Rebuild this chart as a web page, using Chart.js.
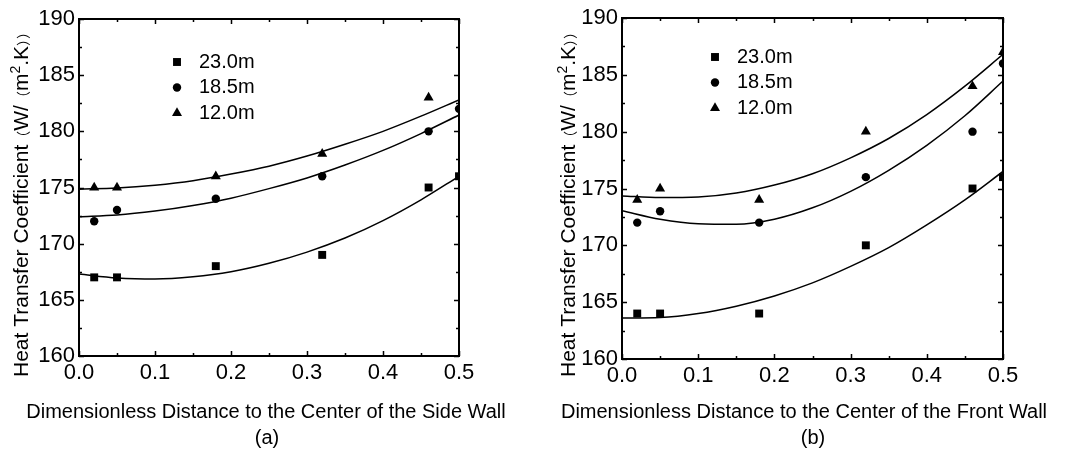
<!DOCTYPE html>
<html>
<head>
<meta charset="utf-8">
<script src="https://cdn.jsdelivr.net/npm/chart.js@4.4.1/dist/chart.umd.min.js"></script>
<style>
  html, body { margin: 0; padding: 0; background: #fff; }
  .panel { position: absolute; top: 0; height: 450px; }
  #panelA { left: 0; width: 540px; }
  #panelB { left: 540px; width: 543px; }
</style>
</head>
<body>
<div class="panel" id="panelA"><canvas id="chartA"></canvas></div>
<div class="panel" id="panelB"><canvas id="chartB"></canvas></div>
<script>
// measured positions along the wall (dimensionless)
const xPoints = [0.02, 0.05, 0.18, 0.32, 0.46, 0.5];
const seriesLabels = ['23.0m', '18.5m', '12.0m'];

// (a) side wall
const side23 = [167, 167, 168, 169, 175, 176];
const side185 = [172, 173, 174, 176, 180, 182];
const side12 = [175, 175, 176, 178, 183, null];

// (b) front wall
const front23 = [164, 164, 164, 170, 175, 176];
const front185 = [172, 173, 172, 176, 180, 186];
const front12 = [174, 175, 174, 180, 184, 187];

// fitted curves at these x positions
const fitX = [0, 0.05, 0.1, 0.15, 0.2, 0.25, 0.3, 0.35, 0.4, 0.45, 0.5];
const sideFit23 = [167.3, 166.95, 166.85, 167.05, 167.5, 168.25, 169.25, 170.5, 172.05, 173.9, 176.0];
const sideFit185 = [172.4, 172.55, 172.9, 173.4, 174.05, 174.9, 175.85, 177.0, 178.3, 179.8, 181.45];
const sideFit12 = [174.85, 174.95, 175.2, 175.6, 176.2, 176.9, 177.8, 178.85, 180.0, 181.35, 182.8];
const frontFit23 = [163.6, 163.65, 164.0, 164.65, 165.55, 166.7, 168.15, 169.8, 171.8, 174.0, 176.5];
const frontFit185 = [173.05, 172.3, 171.9, 171.85, 172.3, 173.3, 174.75, 176.6, 178.8, 181.4, 184.45];
const frontFit12 = [174.35, 174.2, 174.25, 174.6, 175.3, 176.3, 177.7, 179.4, 181.5, 184.0, 186.8];

// axis ticks
const xMajor = [0, 0.1, 0.2, 0.3, 0.4, 0.5];
const xMinor = [0.05, 0.15, 0.25, 0.35, 0.45];
const yMajor = [160, 165, 170, 175, 180, 185, 190];
const yMinor = [162.5, 167.5, 172.5, 177.5, 182.5, 187.5];

const FONT = "'Liberation Sans', Arial, sans-serif";
const CJK = "'Noto Sans CJK SC', sans-serif";
const MARKERS = [
  { style: 'rect', radius: 5.6 },
  { style: 'circle', radius: 4.2 },
  { style: 'triangle', radius: 5.8 }
];

function pts(xs, ys) {
  return xs.map((x, i) => ({ x: x, y: ys[i] }));
}

function markerSet(i, ys) {
  return {
    label: seriesLabels[i],
    data: pts(xPoints, ys),
    showLine: false,
    pointStyle: MARKERS[i].style,
    pointRadius: MARKERS[i].radius,
    pointBackgroundColor: '#000',
    pointBorderColor: '#000',
    pointBorderWidth: 0,
    clip: 0
  };
}

function fitSet(ys) {
  return {
    label: '',
    data: pts(fitX, ys),
    showLine: true,
    borderColor: '#000',
    borderWidth: 1.5,
    pointRadius: 0,
    cubicInterpolationMode: 'monotone',
    fill: false,
    clip: 0
  };
}

// y title in pieces: narrow CJK brackets and a raised "2"
const Y_TITLE = [
  ['Heat Transfer Coefficient', 21, 0, FONT],
  ['（', 14, 0, CJK],
  ['W/', 21, 0, FONT],
  ['（', 14, 0, CJK],
  ['m', 21, 0, FONT],
  ['2', 14, -8, FONT],
  ['.K', 21, 0, FONT],
  ['））', 14, 0, CJK]
];

// frame with inward ticks on all four sides, titles, in-plot legend
const framePlugin = {
  id: 'frame',
  afterDatasetsDraw(chart, args, opts) {
    const { ctx, chartArea: a, scales } = chart;
    const xs = scales.x, ys = scales.y;
    ctx.save();
    ctx.strokeStyle = '#000';
    ctx.lineWidth = 1.5;
    ctx.beginPath();
    const tick = (list, len) => {
      list.forEach(v => {
        const px = Math.round(xs.getPixelForValue(v)) + 0.5;
        ctx.moveTo(px, a.bottom); ctx.lineTo(px, a.bottom - len);
        ctx.moveTo(px, a.top); ctx.lineTo(px, a.top + len);
      });
    };
    const ytick = (list, len) => {
      list.forEach(v => {
        const py = Math.round(ys.getPixelForValue(v)) + 0.5;
        ctx.moveTo(a.left, py); ctx.lineTo(a.left + len, py);
        ctx.moveTo(a.right, py); ctx.lineTo(a.right - len, py);
      });
    };
    tick(xMajor, 5); tick(xMinor, 3);
    ytick(yMajor, 5); ytick(yMinor, 3);
    ctx.stroke();
    ctx.lineWidth = 2;
    ctx.strokeRect(a.left, a.top, a.right - a.left, a.bottom - a.top);

    ctx.fillStyle = '#000';

    // legend
    ctx.font = '20px ' + FONT;
    ctx.textBaseline = 'middle';
    ctx.textAlign = 'left';
    seriesLabels.forEach((lab, i) => {
      const mx = a.left + opts.dx;
      const my = a.top + opts.dy + i * opts.gap;
      const r = MARKERS[i].radius;
      ctx.beginPath();
      if (MARKERS[i].style === 'rect') {
        const s = r * Math.SQRT1_2;
        ctx.rect(mx - s, my - s, 2 * s, 2 * s);
      } else if (MARKERS[i].style === 'circle') {
        ctx.arc(mx, my, r, 0, Math.PI * 2);
      } else {
        ctx.moveTo(mx, my - r);
        ctx.lineTo(mx + r * 0.866, my + r * 0.5);
        ctx.lineTo(mx - r * 0.866, my + r * 0.5);
        ctx.closePath();
      }
      ctx.fill();
      ctx.fillText(lab, mx + opts.textGap, my);
    });

    // x title and panel tag
    ctx.textAlign = 'center';
    ctx.font = '20px ' + FONT;
    ctx.fillText(opts.xTitle, opts.titleX, 412);
    ctx.fillText(opts.tag, opts.tagX, 438);

    // rotated y title
    ctx.save();
    ctx.translate(opts.yTitleX, 201);
    ctx.rotate(-Math.PI / 2);
    ctx.textAlign = 'left';
    ctx.textBaseline = 'alphabetic';
    let total = 0;
    Y_TITLE.forEach(p => {
      ctx.font = p[1] + 'px ' + p[3];
      total += ctx.measureText(p[0]).width;
    });
    let cx = -total / 2;
    Y_TITLE.forEach(p => {
      ctx.font = p[1] + 'px ' + p[3];
      ctx.fillText(p[0], cx, 7.5 + p[2]);
      cx += ctx.measureText(p[0]).width;
    });
    ctx.restore();

    ctx.restore();
  }
};

function makeChart(id, o) {
  const datasets = [
    markerSet(0, o.m23), markerSet(1, o.m185), markerSet(2, o.m12),
    fitSet(o.f23), fitSet(o.f185), fitSet(o.f12)
  ];
  return new Chart(document.getElementById(id), {
    type: 'scatter',
    data: { datasets },
    options: {
      responsive: true,
      maintainAspectRatio: false,
      animation: false,
      layout: { padding: { left: 0, right: o.padRight, top: o.padTop, bottom: 0 } },
      plugins: {
        legend: { display: false },
        tooltip: { enabled: false },
        frame: o.frame
      },
      scales: {
        x: {
          type: 'linear',
          min: 0,
          max: 0.5,
          afterFit: s => { s.height = o.xAxisH; },
          afterBuildTicks: s => { s.ticks = xMajor.map(v => ({ value: v })); },
          ticks: {
            callback: v => Number(v).toFixed(1),
            color: '#000',
            font: { family: FONT, size: 22 },
            padding: 4,
            maxRotation: 0,
            autoSkip: false
          },
          grid: { display: false, drawTicks: false },
          border: { display: false }
        },
        y: {
          type: 'linear',
          min: 160,
          max: 190,
          afterFit: s => { s.width = o.yAxisW; },
          afterBuildTicks: s => { s.ticks = yMajor.map(v => ({ value: v })); },
          ticks: {
            color: '#000',
            font: { family: FONT, size: 22 },
            padding: 4
          },
          grid: { display: false, drawTicks: false },
          border: { display: false }
        }
      }
    },
    plugins: [framePlugin]
  });
}

makeChart('chartA', {
  m23: side23, m185: side185, m12: side12,
  f23: sideFit23, f185: sideFit185, f12: sideFit12,
  padRight: 81, padTop: 19, xAxisH: 94, yAxisW: 79,
  frame: {
    dx: 98, dy: 43, gap: 25.5, textGap: 22,
    xTitle: 'Dimensionless Distance to the Center of the Side Wall', tag: '(a)',
    titleX: 266, tagX: 267, yTitleX: 20
  }
});

makeChart('chartB', {
  m23: front23, m185: front185, m12: front12,
  f23: frontFit23, f185: frontFit185, f12: frontFit12,
  padRight: 80, padTop: 18, xAxisH: 91, yAxisW: 82,
  frame: {
    dx: 93, dy: 39, gap: 25.5, textGap: 22,
    xTitle: 'Dimensionless Distance to the Center of the Front Wall', tag: '(b)',
    titleX: 264, tagX: 273, yTitleX: 27
  }
});
</script>
</body>
</html>
